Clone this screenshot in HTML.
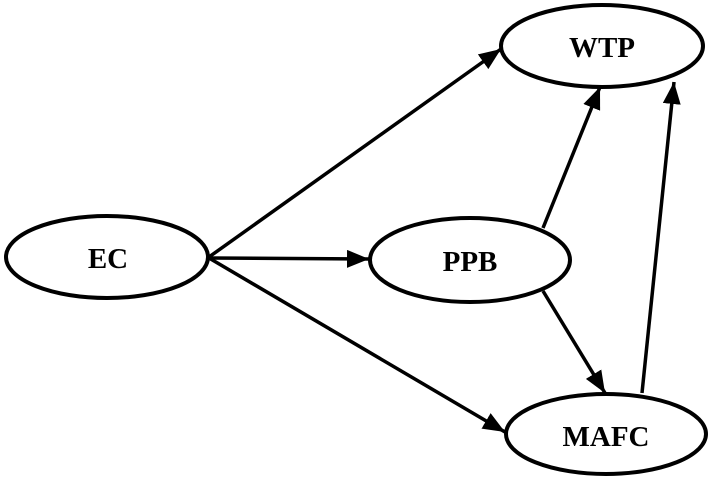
<!DOCTYPE html>
<html><head><style>body{margin:0;background:#fff}svg{display:block}</style></head><body>
<svg width="708" height="477" viewBox="0 0 708 477" xmlns="http://www.w3.org/2000/svg">
<defs>
<marker id="b" markerWidth="22" markerHeight="18" refX="22" refY="9" orient="auto" markerUnits="userSpaceOnUse"><path d="M0,0 L22,9 L0,18 z" fill="#000"/></marker></defs>
<g fill="none" stroke="#000" stroke-width="4">
<ellipse cx="107" cy="257" rx="101" ry="41"/>
<ellipse cx="602" cy="46" rx="101" ry="41"/>
<ellipse cx="470" cy="260" rx="100" ry="42"/>
<ellipse cx="606" cy="434" rx="100" ry="40"/>
</g>
<g stroke="#000" stroke-width="3.5" marker-end="url(#b)">
<line x1="209" y1="257" x2="501" y2="49"/>
<line x1="209" y1="258" x2="369" y2="259"/>
<line x1="209" y1="258" x2="505" y2="432"/>
<line x1="543" y1="228" x2="600" y2="87"/>
<line x1="543" y1="291" x2="605" y2="393"/>
<line x1="642" y1="393" x2="674" y2="82"/>
</g>
<g font-family="'Liberation Serif',serif" font-weight="bold" font-size="29" text-anchor="middle">
<text x="108" y="268">EC</text>
<text x="602" y="57">WTP</text>
<text x="470" y="271">PPB</text>
<text x="606" y="446">MAFC</text>
</g>
</svg>
</body></html>
